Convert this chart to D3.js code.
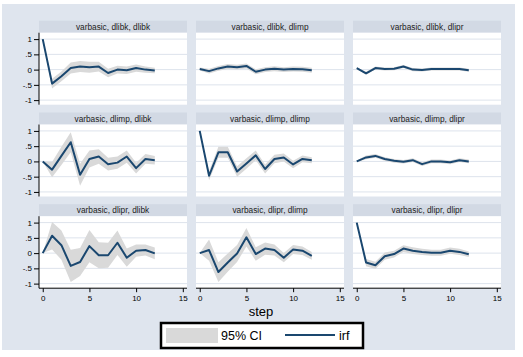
<!DOCTYPE html>
<html><head><meta charset="utf-8">
<script src="https://cdn.jsdelivr.net/npm/d3@7"></script>
<style>body{margin:0;background:#fff}svg{display:block}text{font-family:"Liberation Sans",Arial,sans-serif}</style>
</head><body><svg id="c" width="523" height="357"></svg>
<script>
const steps = [0,1,2,3,4,5,6,7,8,9,10,11,12];
const yTicks = [-1,-0.5,0,0.5,1];
const yTickLabels = ["-1","-.5","0",".5","1"];
const xTicks = [0,5,10,15];
const panelTitles = [
 "varbasic, dlibk, dlibk","varbasic, dlibk, dlimp","varbasic, dlibk, dlipr",
 "varbasic, dlimp, dlibk","varbasic, dlimp, dlimp","varbasic, dlimp, dlipr",
 "varbasic, dlipr, dlibk","varbasic, dlipr, dlimp","varbasic, dlipr, dlipr"];

const irf1 = [1,-0.46,-0.22,0.05,0.1,0.08,0.1,-0.11,0.0,-0.02,0.05,0.0,-0.03];
const lo1  = [1,-0.62,-0.38,-0.13,-0.08,-0.1,-0.06,-0.25,-0.13,-0.14,-0.07,-0.1,-0.12];
const hi1  = [1,-0.3,-0.06,0.23,0.28,0.26,0.26,0.03,0.13,0.1,0.17,0.1,0.06];

const irf2 = [0.02,-0.05,0.04,0.1,0.08,0.12,-0.07,0.0,0.03,0.0,0.02,0.01,-0.02];
const lo2  = [-0.03,-0.13,-0.04,0.02,0.0,0.04,-0.15,-0.08,-0.05,-0.08,-0.06,-0.07,-0.1];
const hi2  = [0.07,0.03,0.12,0.18,0.16,0.2,0.01,0.08,0.11,0.08,0.1,0.09,0.06];

const irf3 = [0.05,-0.12,0.05,0.02,0.03,0.1,0.0,-0.01,0.02,0.02,0.02,0.02,-0.02];
const lo3  = [0.02,-0.17,0.0,-0.03,-0.02,0.05,-0.05,-0.06,-0.03,-0.03,-0.03,-0.03,-0.07];
const hi3  = [0.08,-0.07,0.1,0.07,0.08,0.15,0.05,0.04,0.07,0.07,0.07,0.07,0.03];

const irf4 = [0,-0.27,0.18,0.63,-0.44,0.08,0.16,-0.09,-0.04,0.16,-0.22,0.08,0.04];
const lo4  = [0,-0.52,-0.12,0.3,-0.8,-0.2,-0.08,-0.3,-0.24,-0.04,-0.4,-0.08,-0.1];
const hi4  = [0,-0.02,0.48,0.96,-0.08,0.36,0.4,0.12,0.16,0.36,-0.04,0.24,0.18];

const irf5 = [1,-0.47,0.3,0.3,-0.33,-0.07,0.2,-0.25,0.08,0.13,-0.1,0.08,0.04];
const lo5  = [1,-0.62,0.12,0.12,-0.5,-0.24,0.04,-0.4,-0.06,0.0,-0.22,-0.03,-0.06];
const hi5  = [1,-0.32,0.48,0.48,-0.16,0.1,0.36,-0.1,0.22,0.26,0.02,0.19,0.14];

const irf6 = [0,0.13,0.18,0.08,0.02,-0.01,0.04,-0.09,0.0,0.0,-0.03,0.04,0.0];
const lo6  = [-0.03,0.07,0.12,0.02,-0.04,-0.07,-0.02,-0.15,-0.06,-0.06,-0.09,-0.02,-0.06];
const hi6  = [0.03,0.19,0.24,0.14,0.08,0.05,0.1,-0.03,0.06,0.06,0.03,0.1,0.06];

const irf7 = [0,0.57,0.26,-0.42,-0.29,0.23,-0.07,-0.07,0.34,-0.15,0.08,0.1,-0.01];
const lo7  = [0,0.12,-0.22,-0.95,-0.75,-0.3,-0.5,-0.48,-0.06,-0.45,-0.12,-0.08,-0.2];
const hi7  = [0,1.02,0.74,0.11,0.17,0.76,0.36,0.34,0.74,0.15,0.28,0.28,0.18];

const irf8 = [0,0.1,-0.62,-0.31,-0.01,0.52,-0.03,0.15,0.1,-0.15,0.12,0.08,-0.09];
const lo8  = [0,-0.25,-0.95,-0.61,-0.29,0.22,-0.25,-0.05,-0.08,-0.3,-0.03,-0.06,-0.22];
const hi8  = [0,0.45,-0.3,-0.01,0.27,0.82,0.19,0.35,0.28,0.0,0.27,0.22,0.04];

const irf9 = [1,-0.31,-0.4,-0.1,-0.03,0.15,0.08,0.04,0.01,0.01,0.08,0.04,-0.04];
const lo9  = [1,-0.43,-0.52,-0.22,-0.14,0.04,-0.03,-0.06,-0.09,-0.09,-0.02,-0.06,-0.13];
const hi9  = [1,-0.19,-0.28,0.02,0.08,0.26,0.19,0.14,0.11,0.11,0.18,0.14,0.05];

const irfs = [irf1,irf2,irf3,irf4,irf5,irf6,irf7,irf8,irf9];
const los = [lo1,lo2,lo3,lo4,lo5,lo6,lo7,lo8,lo9];
const his = [hi1,hi2,hi3,hi4,hi5,hi6,hi7,hi8,hi9];

const svg = d3.select("#c");
const NAVY = "#1a476f", CI = "#d9d9d9", BG = "#dfe5ee", STRIP = "#d2d9e4", GRID = "#dde3ec";

svg.append("rect").attr("x",2).attr("y",4).attr("width",513).attr("height",346).attr("fill",BG);

const colX = [39,196,353], cellW = 148;
const rowY = [20.7,112.5,204.2], stripH = 12, plotH = 72;

const x = d3.scaleLinear().domain([-0.4,15.45]).range([0,cellW]);
const y = d3.scaleLinear().domain([-1.15,1.21]).range([plotH,0]);

const defs = svg.append("defs");
defs.append("clipPath").attr("id","pc").append("rect").attr("width",cellW).attr("height",plotH);

for (let i=0;i<9;i++){
  const r = Math.floor(i/3), c = i%3;
  const g = svg.append("g").attr("transform",`translate(${colX[c]},${rowY[r]})`);
  g.append("rect").attr("width",cellW).attr("height",stripH).attr("fill",STRIP);
  g.append("text").attr("x",cellW/2).attr("y",stripH/2+3).attr("text-anchor","middle")
    .attr("font-size",8.3).attr("fill","#222").text(panelTitles[i]);
  const p = g.append("g").attr("transform",`translate(0,${stripH})`);
  p.append("rect").attr("width",cellW).attr("height",plotH).attr("fill","#fff");
  p.selectAll("line.grid").data(yTicks).join("line").attr("class","grid")
    .attr("x1",0).attr("x2",cellW).attr("y1",d=>y(d)).attr("y2",d=>y(d))
    .attr("stroke",GRID).attr("stroke-width",1);
  const data = steps.map((s,k)=>({s, v:irfs[i][k], lo:los[i][k], hi:his[i][k]}));
  const pc = p.append("g").attr("clip-path","url(#pc)");
  pc.append("path").datum(data).attr("fill",CI)
    .attr("d",d3.area().x(d=>x(d.s)).y0(d=>y(d.lo)).y1(d=>y(d.hi)));
  pc.append("path").datum(data).attr("fill","none").attr("stroke",NAVY).attr("stroke-width",2)
    .attr("stroke-linejoin","round")
    .attr("d",d3.line().x(d=>x(d.s)).y(d=>y(d.v)));
  if (c===0){
    const ax = p.append("g").call(d3.axisLeft(y).tickValues(yTicks).tickSize(5).tickPadding(2)
      .tickFormat((d,k)=>yTickLabels[k]));
    ax.select(".domain").attr("d",`M0,0V${plotH}`).attr("stroke","#000");
    ax.selectAll("text").attr("font-size",8).attr("font-family","Liberation Sans, Arial, sans-serif").attr("fill","#000");
  }
  if (r===2){
    const ax = p.append("g").attr("transform",`translate(0,${plotH})`)
      .call(d3.axisBottom(x).tickValues(xTicks).tickSize(4).tickPadding(3));
    ax.select(".domain").attr("d",`M0,0H${cellW}`).attr("stroke","#000");
    ax.selectAll("text").attr("font-size",8).attr("font-family","Liberation Sans, Arial, sans-serif").attr("fill","#000");
  }
}

svg.append("text").attr("x",261).attr("y",315.5).attr("text-anchor","middle")
  .attr("font-size",13).attr("fill","#000").text("step");

const lg = svg.append("g");
lg.append("rect").attr("x",161).attr("y",323).attr("width",202).attr("height",25)
  .attr("fill","#fff").attr("stroke","#000").attr("stroke-width",2.5);
lg.append("rect").attr("x",166).attr("y",328).attr("width",52).attr("height",15).attr("fill",CI);
lg.append("text").attr("x",221).attr("y",340).attr("font-size",12.5).attr("fill","#000").text("95% CI");
lg.append("line").attr("x1",285).attr("x2",335).attr("y1",335).attr("y2",335).attr("stroke",NAVY).attr("stroke-width",2);
lg.append("text").attr("x",339).attr("y",340).attr("font-size",12.5).attr("fill","#000").text("irf");
</script></body></html>
